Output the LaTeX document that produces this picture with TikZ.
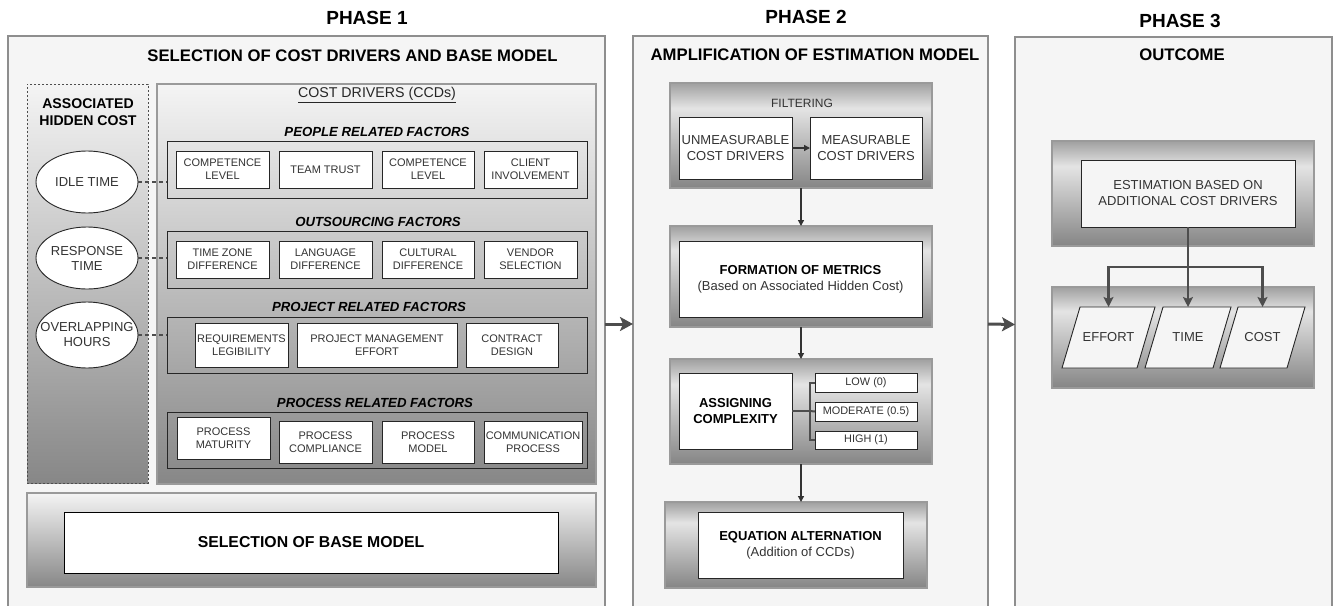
\documentclass[tikz,border=0pt]{standalone}
\usepackage{fontspec}
\setmainfont{Liberation Sans}
\usetikzlibrary{shapes.geometric,arrows.meta,calc}

\definecolor{pbg}{HTML}{F5F5F5}
\definecolor{pline}{HTML}{8E8E8E}
\definecolor{ink}{HTML}{333333}
\definecolor{edge}{HTML}{262626}
\definecolor{gtop}{HTML}{F4F4F4}
\definecolor{gbot}{HTML}{878787}
\definecolor{btop}{HTML}{A0A0A0}
\definecolor{bmid}{HTML}{E4E4E4}
\definecolor{bbot}{HTML}{858585}
\definecolor{soft}{HTML}{9A9A9A}
\definecolor{wire}{HTML}{4D4D4D}

% light-to-dark fill used in the first phase
\pgfdeclareverticalshading{fadedown}{100bp}{color(0bp)=(gbot); color(25bp)=(gbot); color(75bp)=(gtop); color(100bp)=(gtop)}
% darker rim on top, light band, dark bottom
\pgfdeclareverticalshading{bandshade}{100bp}{color(0bp)=(bbot); color(25bp)=(bbot); color(63bp)=(bmid); color(75bp)=(btop); color(100bp)=(btop)}

% rectangle node given by its corners: style, name, x1, y1, x2, y2, text
\newcommand\rectnode[7]{%
  \pgfmathsetmacro\bcx{(#3+#5)/2}%
  \pgfmathsetmacro\bcy{(#4+#6)/2}%
  \pgfmathsetmacro\bw{#5-#3}%
  \pgfmathsetmacro\bh{#6-#4}%
  \node[inner sep=0pt,outer sep=0pt,#1,minimum width=\bw pt,minimum height=\bh pt] (#2) at (\bcx,\bcy) {#7};}

\tikzset{
  phase/.style={draw=pline, line width=1.5pt, fill=pbg},
  fade/.style={draw=soft, line width=1.2pt, shade, shading=fadedown},
  band/.style={draw=soft, line width=1.2pt, shade, shading=bandshade},
  grp/.style={draw=edge, line width=0.9pt},
  cell/.style={draw=edge, line width=0.9pt, fill=white, align=center, text=ink, font=\fontsize{11}{13}\selectfont},
  cellm/.style={draw=edge, line width=0.9pt, fill=white, align=center, text=ink, font=\fontsize{13}{16}\selectfont},
  tiny/.style={draw=edge, line width=0.9pt, fill=white, align=center, text=ink, font=\fontsize{10.9}{12}\selectfont},
  oval/.style={ellipse, draw=edge, line width=0.9pt, fill=white, inner sep=0pt, minimum width=102pt},
  otxt/.style={align=center, text=ink, font=\fontsize{13}{15}\selectfont},
  ttl/.style={font=\fontsize{19}{21}\selectfont\bfseries},
  hd/.style={font=\fontsize{16.7}{19}\selectfont\bfseries},
  fh/.style={font=\fontsize{13.2}{15}\selectfont\bfseries\itshape},
  lbl/.style={text=ink, font=\fontsize{12}{14}\selectfont},
  plbl/.style={text=ink, font=\fontsize{13}{15}\selectfont},
  slot/.style={inner sep=0pt, outer sep=0pt, minimum height=61pt},
  hdash/.style={draw=wire, line width=1.4pt, dash pattern=on 4pt off 3pt},
  arr/.style={draw=ink, line width=1.3pt, -{Triangle[length=6pt,width=6pt]}},
  busline/.style={draw=wire, line width=2pt},
  arr3/.style={draw=wire, line width=2.4pt, -{Stealth[length=10pt,width=10pt,inset=2pt]}},
  bigarr/.style={draw=wire, line width=3pt, -{Stealth[length=13pt,width=14pt,inset=3pt]}},
  para/.style={draw=edge, line width=0.9pt, fill=pbg}
}

\begin{document}
\begin{tikzpicture}[x=1pt,y=-1pt]
\useasboundingbox (0,0) rectangle (1337,605);
\fill[white] (0,0) rectangle (1337,605);

% ---------- phase frames ----------
\rectnode{phase}{p1}{8}{36}{605}{612}{}
\rectnode{phase}{p2}{633}{36}{988}{612}{}
\rectnode{phase}{p3}{1015}{37}{1332}{612}{}

\node[ttl] (ph1) at (367,18) {PHASE 1};
\node[ttl] (ph2) at (806,17) {PHASE 2};
\node[ttl] (ph3) at (1180,21) {PHASE 3};

\node[hd] (t1) at (352.5,56) {SELECTION OF COST DRIVERS AND BASE MODEL};
\node[hd] (t2) at (815,55) {AMPLIFICATION OF ESTIMATION MODEL};
\node[hd] (t3) at (1182,55) {OUTCOME};

\draw[bigarr] (p1.east) -- (p2.west);
\draw[bigarr] (p2.east) -- (p3.west);

% ---------- phase 1: hidden cost ----------
\rectnode{fade, draw=wire, line width=0.9pt, dash pattern=on 2pt off 2pt}{hid}{27}{84}{148}{483}{}
\node[align=center, font=\fontsize{14.1}{17}\selectfont\bfseries] (hidt) at (88,112.5) {ASSOCIATED\\HIDDEN COST};
\node[oval, minimum height=62pt] (idle) at (87,182) {};
\node[oval, minimum height=62pt] (resp) at (87,258) {};
\node[oval, minimum height=66pt] (over) at (87,335) {};
\node[otxt] (idlet) at (idle.center) {IDLE TIME};
\node[otxt] (respt) at (resp.center) {RESPONSE\\TIME};
\node[otxt] (overt) at (over.center) {OVERLAPPING\\HOURS};

% ---------- phase 1: cost drivers ----------
\rectnode{fade}{ccd}{157}{84}{596}{484}{}
\node[text=edge, font=\fontsize{14.2}{16}\selectfont] (ccdt) at (377,95) {\underline{COST DRIVERS (CCDs)}};

\node[fh] (hp1) at (377,132) {PEOPLE RELATED FACTORS};
\node[fh] (hp2) at (378,222) {OUTSOURCING FACTORS};
\node[fh] (hp3) at (369,307) {PROJECT RELATED FACTORS};
\node[fh] (hp4) at (375,403) {PROCESS RELATED FACTORS};

\rectnode{grp}{ppl}{167}{141}{587}{198}{}
\rectnode{grp}{out}{167}{231}{587}{288}{}
\rectnode{grp}{prj}{167}{317}{587}{373}{}
\rectnode{grp}{prc}{167}{412}{587}{468}{}

\rectnode{cell}{c11}{176}{151}{269}{188}{COMPETENCE\\LEVEL}
\rectnode{cell}{c12}{279}{151}{372}{188}{TEAM TRUST}
\rectnode{cell}{c13}{382}{151}{474}{188}{COMPETENCE\\LEVEL}
\rectnode{cell}{c14}{484}{151}{577}{188}{CLIENT\\INVOLVEMENT}

\rectnode{cell}{c21}{176}{241}{269}{278}{TIME ZONE\\DIFFERENCE}
\rectnode{cell}{c22}{279}{241}{372}{278}{LANGUAGE\\DIFFERENCE}
\rectnode{cell}{c23}{382}{241}{474}{278}{CULTURAL\\DIFFERENCE}
\rectnode{cell}{c24}{484}{241}{577}{278}{VENDOR\\SELECTION}

\rectnode{cell}{c31}{195}{323}{288}{367}{REQUIREMENTS\\LEGIBILITY}
\rectnode{cell}{c32}{297}{323}{457}{367}{PROJECT MANAGEMENT\\EFFORT}
\rectnode{cell}{c33}{466}{323}{558}{367}{CONTRACT\\DESIGN}

\rectnode{cell}{c41}{177}{417}{270}{459}{PROCESS\\MATURITY}
\rectnode{cell}{c42}{279}{421}{372}{463}{PROCESS\\COMPLIANCE}
\rectnode{cell}{c43}{382}{421}{474}{463}{PROCESS\\MODEL}
\rectnode{cell}{c44}{484}{421}{582}{463}{COMMUNICATION\\PROCESS}

\draw[hdash] (idle.east) -- (idle.east -| ppl.west);
\draw[hdash] (resp.east) -- (resp.east -| out.west);
\draw[hdash] (over.east) -- (over.east -| prj.west);

% ---------- phase 1: base model ----------
\rectnode{fade}{base}{27}{493}{596}{587}{}
\rectnode{draw=black, line width=1pt, fill=white, font=\fontsize{15.8}{18}\selectfont\bfseries}{baset}{64}{512}{558}{573}{SELECTION OF BASE MODEL}

% ---------- phase 2 ----------
\rectnode{band}{filt}{670}{83}{932}{188}{}
\node[lbl] (filtt) at (802,103) {FILTERING};
\rectnode{cellm}{unm}{679}{117}{792}{179}{UNMEASURABLE\\COST DRIVERS}
\rectnode{cellm}{mea}{810}{117}{922}{179}{MEASURABLE\\COST DRIVERS}
\draw[arr] (unm) -- (mea);

\rectnode{band}{form}{670}{226}{932}{327}{}
\rectnode{cellm}{formt}{679}{241}{922}{317}{{\color{black}\bfseries FORMATION OF METRICS}\\(Based on Associated Hidden Cost)}
\draw[arr] (filt) -- (form);

\rectnode{band}{asg}{670}{359}{932}{464}{}
\rectnode{cellm, text=black, font=\fontsize{13}{16}\selectfont\bfseries}{asgt}{679}{373}{792}{449}{ASSIGNING\\COMPLEXITY}
\rectnode{tiny}{low}{815}{373}{917}{392}{LOW (0)}
\rectnode{tiny}{mod}{815}{402}{917}{421}{MODERATE (0.5)}
\rectnode{tiny}{high}{815}{431}{917}{449}{HIGH (1)}
\coordinate (bus) at (810,411);
\draw[busline] (asgt.east) -- (bus);
\draw[busline] (low.west) -| (bus) |- (high.west);
\draw[busline] (bus) -- (mod.west);
\draw[arr] (form) -- (asg);

\rectnode{band}{eqn}{665}{502}{927}{588}{}
\rectnode{cellm}{eqnt}{698}{512}{903}{578}{{\color{black}\bfseries EQUATION ALTERNATION}\\(Addition of CCDs)}
\draw[arr] (asg.south) -- (asg.south |- eqn.north);

% ---------- phase 3 ----------
\rectnode{band}{estb}{1052}{141}{1314}{246}{}
\rectnode{cellm, fill=pbg}{est}{1081}{160}{1295}{227}{ESTIMATION BASED ON\\ADDITIONAL COST DRIVERS}
\rectnode{band}{outb}{1052}{287}{1314}{388}{}

% slanted output boxes: a frame node, its parallelogram, then its label
\node[slot, minimum width=75pt] (eff) at (1108.5,337.5) {};
\node[slot, minimum width=68pt] (tim) at (1188,337.5) {};
\node[slot, minimum width=67pt] (cst) at (1262.5,337.5) {};
\foreach \n in {eff,tim,cst}{
  \draw[para] ([xshift=9pt]\n.north west) -- ([xshift=9pt]\n.north east) -- ([xshift=-9pt]\n.south east) -- ([xshift=-9pt]\n.south west) -- cycle;
}
\node[plbl] (efft) at (eff.center) {EFFORT};
\node[plbl] (timt) at (tim.center) {TIME};
\node[plbl] (cstt) at (cst.center) {COST};

\coordinate (split) at (1188,267);
\draw[arr3] (est.south) -- (tim.north);
\draw[arr3] (split) -| (eff.north);
\draw[arr3] (split) -| (cst.north);
\end{tikzpicture}
\end{document}
